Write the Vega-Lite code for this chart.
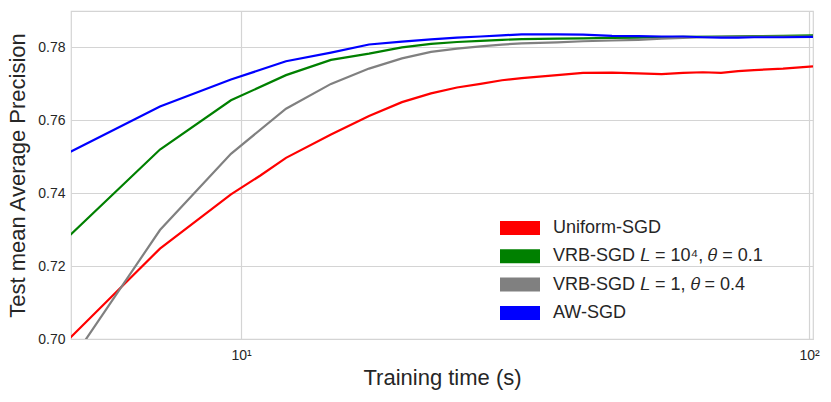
{
  "$schema": "https://vega.github.io/schema/vega-lite/v6.json",
  "width": 742,
  "height": 328,
  "autosize": {"type": "none"},
  "padding": {"left": 71, "top": 11, "right": 18, "bottom": 63},
  "background": "white",
  "config": {
    "font": "Liberation Sans",
    "view": {"stroke": "#d4d4d4", "strokeWidth": 1.2},
    "axis": {
      "grid": true,
      "gridColor": "#d4d4d4",
      "gridWidth": 1.2,
      "domain": false,
      "ticks": false,
      "labelFont": "Liberation Sans",
      "labelFontSize": 14,
      "labelColor": "#262626",
      "titleFont": "Liberation Sans",
      "titleFontSize": 22,
      "titleFontWeight": "normal",
      "titleColor": "#262626"
    }
  },
  "data": {
    "values": [
      {"t": 5.0, "v": 0.7003, "s": "Uniform-SGD"},
      {"t": 7.2, "v": 0.7248, "s": "Uniform-SGD"},
      {"t": 9.6, "v": 0.7397, "s": "Uniform-SGD"},
      {"t": 10.8, "v": 0.7448, "s": "Uniform-SGD"},
      {"t": 12.0, "v": 0.7497, "s": "Uniform-SGD"},
      {"t": 14.4, "v": 0.7561, "s": "Uniform-SGD"},
      {"t": 16.8, "v": 0.7612, "s": "Uniform-SGD"},
      {"t": 19.2, "v": 0.7650, "s": "Uniform-SGD"},
      {"t": 21.6, "v": 0.7674, "s": "Uniform-SGD"},
      {"t": 24.0, "v": 0.7690, "s": "Uniform-SGD"},
      {"t": 26.4, "v": 0.7700, "s": "Uniform-SGD"},
      {"t": 28.8, "v": 0.7710, "s": "Uniform-SGD"},
      {"t": 31.2, "v": 0.7716, "s": "Uniform-SGD"},
      {"t": 36.0, "v": 0.7724, "s": "Uniform-SGD"},
      {"t": 40.0, "v": 0.7730, "s": "Uniform-SGD"},
      {"t": 45.0, "v": 0.7731, "s": "Uniform-SGD"},
      {"t": 50.0, "v": 0.7729, "s": "Uniform-SGD"},
      {"t": 55.0, "v": 0.7727, "s": "Uniform-SGD"},
      {"t": 60.0, "v": 0.7730, "s": "Uniform-SGD"},
      {"t": 65.0, "v": 0.7732, "s": "Uniform-SGD"},
      {"t": 70.0, "v": 0.7730, "s": "Uniform-SGD"},
      {"t": 75.0, "v": 0.7735, "s": "Uniform-SGD"},
      {"t": 80.0, "v": 0.7738, "s": "Uniform-SGD"},
      {"t": 90.0, "v": 0.7742, "s": "Uniform-SGD"},
      {"t": 101.6, "v": 0.7748, "s": "Uniform-SGD"},

      {"t": 5.0, "v": 0.7285, "s": "VRB-SGD 𝐿 = 10⁴, 𝜃 = 0.1"},
      {"t": 7.2, "v": 0.7520, "s": "VRB-SGD 𝐿 = 10⁴, 𝜃 = 0.1"},
      {"t": 9.6, "v": 0.7655, "s": "VRB-SGD 𝐿 = 10⁴, 𝜃 = 0.1"},
      {"t": 12.0, "v": 0.7724, "s": "VRB-SGD 𝐿 = 10⁴, 𝜃 = 0.1"},
      {"t": 14.4, "v": 0.7766, "s": "VRB-SGD 𝐿 = 10⁴, 𝜃 = 0.1"},
      {"t": 16.8, "v": 0.7783, "s": "VRB-SGD 𝐿 = 10⁴, 𝜃 = 0.1"},
      {"t": 19.2, "v": 0.7800, "s": "VRB-SGD 𝐿 = 10⁴, 𝜃 = 0.1"},
      {"t": 21.6, "v": 0.7810, "s": "VRB-SGD 𝐿 = 10⁴, 𝜃 = 0.1"},
      {"t": 24.0, "v": 0.7815, "s": "VRB-SGD 𝐿 = 10⁴, 𝜃 = 0.1"},
      {"t": 26.4, "v": 0.7818, "s": "VRB-SGD 𝐿 = 10⁴, 𝜃 = 0.1"},
      {"t": 28.8, "v": 0.7821, "s": "VRB-SGD 𝐿 = 10⁴, 𝜃 = 0.1"},
      {"t": 31.2, "v": 0.7823, "s": "VRB-SGD 𝐿 = 10⁴, 𝜃 = 0.1"},
      {"t": 36.0, "v": 0.7824, "s": "VRB-SGD 𝐿 = 10⁴, 𝜃 = 0.1"},
      {"t": 40.0, "v": 0.7825, "s": "VRB-SGD 𝐿 = 10⁴, 𝜃 = 0.1"},
      {"t": 45.0, "v": 0.7826, "s": "VRB-SGD 𝐿 = 10⁴, 𝜃 = 0.1"},
      {"t": 50.0, "v": 0.7827, "s": "VRB-SGD 𝐿 = 10⁴, 𝜃 = 0.1"},
      {"t": 55.0, "v": 0.7828, "s": "VRB-SGD 𝐿 = 10⁴, 𝜃 = 0.1"},
      {"t": 60.0, "v": 0.7829, "s": "VRB-SGD 𝐿 = 10⁴, 𝜃 = 0.1"},
      {"t": 70.0, "v": 0.7830, "s": "VRB-SGD 𝐿 = 10⁴, 𝜃 = 0.1"},
      {"t": 80.0, "v": 0.7831, "s": "VRB-SGD 𝐿 = 10⁴, 𝜃 = 0.1"},
      {"t": 90.0, "v": 0.7832, "s": "VRB-SGD 𝐿 = 10⁴, 𝜃 = 0.1"},
      {"t": 101.6, "v": 0.7833, "s": "VRB-SGD 𝐿 = 10⁴, 𝜃 = 0.1"},

      {"t": 5.0, "v": 0.6935, "s": "VRB-SGD 𝐿 = 1, 𝜃 = 0.4"},
      {"t": 7.2, "v": 0.7299, "s": "VRB-SGD 𝐿 = 1, 𝜃 = 0.4"},
      {"t": 9.6, "v": 0.7508, "s": "VRB-SGD 𝐿 = 1, 𝜃 = 0.4"},
      {"t": 12.0, "v": 0.7632, "s": "VRB-SGD 𝐿 = 1, 𝜃 = 0.4"},
      {"t": 14.4, "v": 0.7700, "s": "VRB-SGD 𝐿 = 1, 𝜃 = 0.4"},
      {"t": 16.8, "v": 0.7742, "s": "VRB-SGD 𝐿 = 1, 𝜃 = 0.4"},
      {"t": 19.2, "v": 0.7770, "s": "VRB-SGD 𝐿 = 1, 𝜃 = 0.4"},
      {"t": 21.6, "v": 0.7788, "s": "VRB-SGD 𝐿 = 1, 𝜃 = 0.4"},
      {"t": 24.0, "v": 0.7797, "s": "VRB-SGD 𝐿 = 1, 𝜃 = 0.4"},
      {"t": 26.4, "v": 0.7803, "s": "VRB-SGD 𝐿 = 1, 𝜃 = 0.4"},
      {"t": 28.8, "v": 0.7808, "s": "VRB-SGD 𝐿 = 1, 𝜃 = 0.4"},
      {"t": 31.2, "v": 0.7811, "s": "VRB-SGD 𝐿 = 1, 𝜃 = 0.4"},
      {"t": 36.0, "v": 0.7814, "s": "VRB-SGD 𝐿 = 1, 𝜃 = 0.4"},
      {"t": 40.0, "v": 0.7817, "s": "VRB-SGD 𝐿 = 1, 𝜃 = 0.4"},
      {"t": 45.0, "v": 0.7819, "s": "VRB-SGD 𝐿 = 1, 𝜃 = 0.4"},
      {"t": 50.0, "v": 0.7821, "s": "VRB-SGD 𝐿 = 1, 𝜃 = 0.4"},
      {"t": 55.0, "v": 0.7824, "s": "VRB-SGD 𝐿 = 1, 𝜃 = 0.4"},
      {"t": 60.0, "v": 0.7826, "s": "VRB-SGD 𝐿 = 1, 𝜃 = 0.4"},
      {"t": 65.0, "v": 0.7828, "s": "VRB-SGD 𝐿 = 1, 𝜃 = 0.4"},
      {"t": 70.0, "v": 0.7829, "s": "VRB-SGD 𝐿 = 1, 𝜃 = 0.4"},
      {"t": 80.0, "v": 0.7830, "s": "VRB-SGD 𝐿 = 1, 𝜃 = 0.4"},
      {"t": 90.0, "v": 0.7830, "s": "VRB-SGD 𝐿 = 1, 𝜃 = 0.4"},
      {"t": 101.6, "v": 0.7830, "s": "VRB-SGD 𝐿 = 1, 𝜃 = 0.4"},

      {"t": 5.0, "v": 0.7513, "s": "AW-SGD"},
      {"t": 7.2, "v": 0.7638, "s": "AW-SGD"},
      {"t": 9.6, "v": 0.7712, "s": "AW-SGD"},
      {"t": 12.0, "v": 0.7762, "s": "AW-SGD"},
      {"t": 14.4, "v": 0.7786, "s": "AW-SGD"},
      {"t": 16.8, "v": 0.7808, "s": "AW-SGD"},
      {"t": 19.2, "v": 0.7816, "s": "AW-SGD"},
      {"t": 21.6, "v": 0.7822, "s": "AW-SGD"},
      {"t": 24.0, "v": 0.7827, "s": "AW-SGD"},
      {"t": 26.4, "v": 0.7830, "s": "AW-SGD"},
      {"t": 28.8, "v": 0.7833, "s": "AW-SGD"},
      {"t": 31.2, "v": 0.7836, "s": "AW-SGD"},
      {"t": 36.0, "v": 0.7836, "s": "AW-SGD"},
      {"t": 40.0, "v": 0.7835, "s": "AW-SGD"},
      {"t": 45.0, "v": 0.7832, "s": "AW-SGD"},
      {"t": 50.0, "v": 0.7831, "s": "AW-SGD"},
      {"t": 55.0, "v": 0.7830, "s": "AW-SGD"},
      {"t": 60.0, "v": 0.7830, "s": "AW-SGD"},
      {"t": 65.0, "v": 0.7828, "s": "AW-SGD"},
      {"t": 70.0, "v": 0.7827, "s": "AW-SGD"},
      {"t": 75.0, "v": 0.7827, "s": "AW-SGD"},
      {"t": 80.0, "v": 0.7828, "s": "AW-SGD"},
      {"t": 90.0, "v": 0.7828, "s": "AW-SGD"},
      {"t": 101.6, "v": 0.7829, "s": "AW-SGD"}
    ]
  },
  "mark": {"type": "line", "strokeWidth": 2.2, "clip": true},
  "encoding": {
    "x": {
      "field": "t",
      "type": "quantitative",
      "title": "Training time (s)",
      "scale": {"type": "log", "domain": [5.02, 101.6], "nice": false},
      "axis": {
        "values": [10, 100],
        "labelExpr": "datum.value == 10 ? '10¹' : '10²'",
        "labelPadding": 9,
        "titlePadding": 5
      }
    },
    "y": {
      "field": "v",
      "type": "quantitative",
      "title": "Test mean Average Precision",
      "scale": {"domain": [0.70, 0.79], "nice": false, "zero": false},
      "axis": {
        "values": [0.70, 0.72, 0.74, 0.76, 0.78],
        "format": ".2f",
        "labelPadding": 6,
        "titlePadding": 8
      }
    },
    "color": {
      "field": "s",
      "type": "nominal",
      "sort": null,
      "scale": {
        "domain": ["Uniform-SGD", "VRB-SGD 𝐿 = 10⁴, 𝜃 = 0.1", "VRB-SGD 𝐿 = 1, 𝜃 = 0.4", "AW-SGD"],
        "range": ["#ff0000", "#008000", "#808080", "#0000ff"]
      },
      "legend": {
        "title": null,
        "orient": "none",
        "legendX": 422,
        "legendY": 203,
        "padding": 0,
        "symbolType": "stroke",
        "symbolSize": 1600,
        "symbolStrokeWidth": 14,
        "clipHeight": 28,
        "rowPadding": 0.3,
        "labelOffset": 6,
        "labelFont": "Liberation Sans",
        "labelFontSize": 18,
        "labelColor": "#262626",
        "labelLimit": 400
      }
    }
  }
}
